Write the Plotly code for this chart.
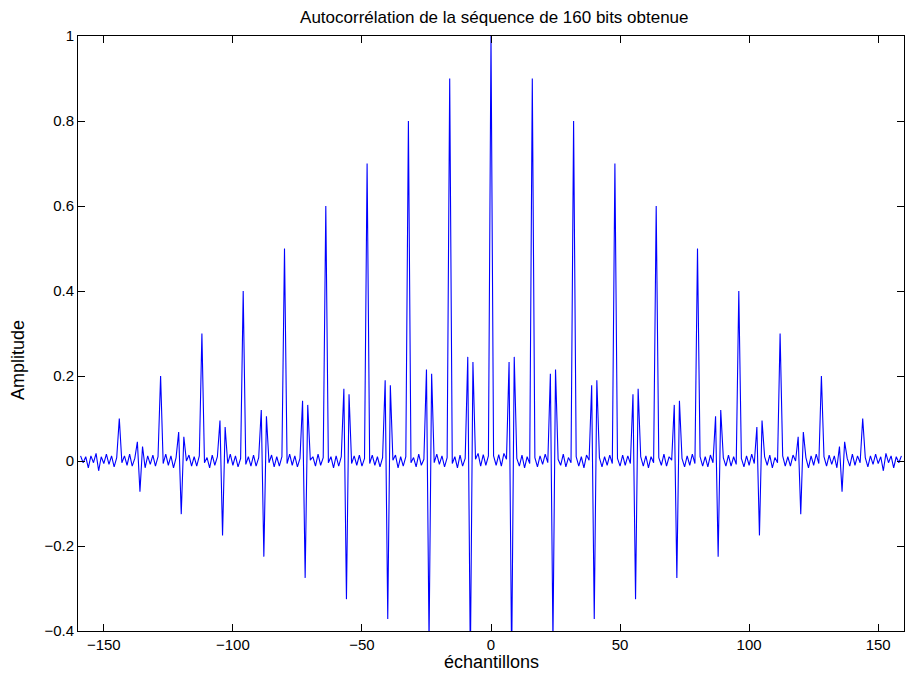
import plotly.graph_objects as go

# Autocorrelation values for lags 0..159; negative lags are the mirror
lag_values = [
    1.0, 0.012, -0.010, 0.015, -0.012, 0.018, 0.004, 0.233, -0.475, 0.245,
    0.006, -0.012, 0.014, -0.016, 0.010, -0.006,
    0.9, 0.008, -0.014, 0.012, -0.008, 0.016, -0.004, 0.205, -0.425, 0.215,
    0.004, -0.010, 0.016, -0.014, 0.008, -0.004,
    0.8, 0.010, -0.012, 0.010, -0.016, 0.014, 0.002, 0.178, -0.372, 0.190,
    0.008, -0.014, 0.010, -0.010, 0.014, -0.006,
    0.7, 0.006, -0.012, 0.014, -0.010, 0.012, -0.006, 0.157, -0.325, 0.170,
    0.010, -0.012, 0.012, -0.016, 0.010, -0.004,
    0.6, 0.008, -0.010, 0.016, -0.012, 0.010, 0.002, 0.132, -0.275, 0.142,
    0.006, -0.014, 0.012, -0.010, 0.016, -0.006,
    0.5, 0.010, -0.012, 0.010, -0.014, 0.014, -0.004, 0.105, -0.225, 0.120,
    0.008, -0.012, 0.014, -0.012, 0.010, -0.008,
    0.4, 0.006, -0.014, 0.012, -0.010, 0.016, -0.006, 0.080, -0.175, 0.095,
    0.010, -0.010, 0.014, -0.016, 0.008, -0.004,
    0.3, 0.012, -0.012, 0.010, -0.012, 0.014, 0.000, 0.057, -0.125, 0.068,
    0.008, -0.016, 0.012, -0.010, 0.016, -0.006,
    0.2, 0.010, -0.012, 0.014, -0.008, 0.012, -0.016, 0.034, -0.072, 0.045,
    0.006, -0.012, 0.016, -0.010, 0.012, -0.004,
    0.1, 0.008, -0.014, 0.012, -0.008, 0.016, -0.006, 0.010, -0.023, 0.018,
    -0.004, 0.012, -0.016, 0.010, -0.004, 0.012,
]

lags = list(range(-(len(lag_values) - 1), len(lag_values)))
values = lag_values[:0:-1] + lag_values

x_ticks = [-150, -100, -50, 0, 50, 100, 150]
y_ticks = [-0.4, -0.2, 0, 0.2, 0.4, 0.6, 0.8, 1]
y_tick_text = ["\u22120.4", "\u22120.2", "0", "0.2", "0.4", "0.6", "0.8", "1"]
x_tick_text = ["\u2212150", "\u2212100", "\u221250", "0", "50", "100", "150"]

title_text = "Autocorrélation de la séquence de 160 bits obtenue"
x_label = "échantillons"
y_label = "Amplitude"

font_family = "Liberation Sans, Arial, Helvetica, sans-serif"

fig = go.Figure()
fig.add_trace(go.Scatter(
    x=lags, y=values, mode="lines",
    line=dict(color="#0000FF", width=1.1),
    hoverinfo="x+y", showlegend=False,
))

axis_common = dict(
    showgrid=False, zeroline=False, showline=True, linecolor="black",
    linewidth=1, mirror="allticks", ticks="inside", ticklen=7,
    tickcolor="black", tickwidth=1,
    tickfont=dict(family=font_family, size=15, color="black"),
)

fig.update_layout(
    width=907, height=679,
    margin=dict(l=78, r=3, t=36, b=48),
    paper_bgcolor="white", plot_bgcolor="white",
    font=dict(family=font_family, color="black"),
    title=dict(
        text=title_text,
        x=0.545, xanchor="center", xref="container",
        y=1 - 17 / 679, yanchor="middle", yref="container",
        font=dict(family=font_family, size=17, color="black"),
    ),
    xaxis=dict(range=[-160, 160], tickvals=x_ticks, ticktext=x_tick_text, **axis_common),
    yaxis=dict(range=[-0.4, 1], tickvals=y_ticks, ticktext=y_tick_text, **axis_common),
    annotations=[
        dict(text=x_label, xref="paper", yref="paper", x=0.5, y=-31 / 595,
             xanchor="center", yanchor="middle", showarrow=False,
             font=dict(family=font_family, size=18, color="black")),
        dict(text=y_label, xref="paper", yref="paper", x=-60 / 826, y=(631 - 360) / 595,
             xanchor="center", yanchor="middle", textangle=-90, showarrow=False,
             font=dict(family=font_family, size=18, color="black")),
    ],
)

fig.write_html("out.html")
